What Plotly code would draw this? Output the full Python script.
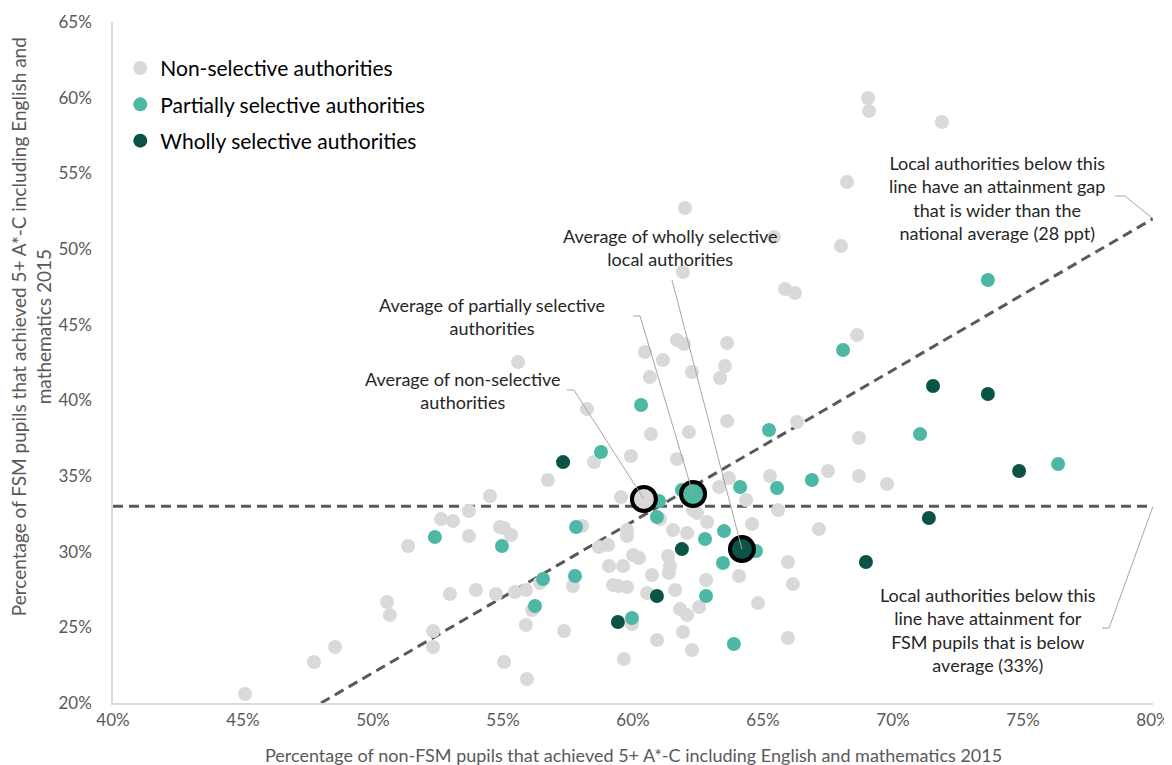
import plotly.graph_objects as go

# values, in percent
non_sel_x = [45.08, 47.73, 48.54, 50.54, 50.65, 51.35, 52.31, 52.31, 52.62, 53.08,
             52.96, 53.69, 53.69, 53.96, 54.50, 54.73, 54.88, 55.04, 55.31, 55.04,
             55.58, 55.46, 55.88, 55.88, 55.92, 56.12, 56.42, 56.73, 57.35, 57.69,
             58.04, 58.23, 58.50, 58.69, 59.04, 59.08, 59.62, 59.23, 59.42, 59.77,
             59.54, 59.77, 59.77, 59.92, 59.96, 59.65, 60.00, 60.23, 60.54, 60.46,
             60.65, 60.69, 60.73, 60.92, 61.04, 61.15, 61.35, 61.42, 61.38, 61.54,
             61.62, 61.69, 61.69, 61.96, 61.81, 62.08, 61.92, 61.92, 62.00, 62.08,
             62.15, 62.27, 62.27, 62.31, 62.46, 62.54, 62.81, 62.85, 63.31, 63.35,
             63.54, 63.62, 63.62, 63.69, 64.08, 64.35, 64.58, 64.81, 65.27, 65.42,
             65.58, 65.85, 66.23, 65.96, 66.15, 65.96, 66.31, 67.15, 67.50, 68.00,
             68.23, 68.62, 68.69, 68.69, 69.04, 69.08, 69.77, 71.88]
non_sel_y = [20.59, 22.71, 23.70, 26.67, 25.81, 30.37, 24.76, 23.70, 32.16, 32.03,
             27.20, 32.69, 31.03, 27.47, 33.68, 27.20, 31.63, 31.56, 31.10, 22.71,
             42.53, 27.33, 27.47, 25.15, 21.59, 26.14, 27.93, 34.74, 24.76, 27.73,
             31.70, 39.43, 35.92, 30.31, 30.44, 29.05, 29.05, 27.80, 27.73, 27.66,
             33.61, 31.43, 31.03, 36.32, 25.22, 22.91, 29.78, 29.58, 27.27, 43.19,
             41.54, 37.77, 28.46, 24.16, 32.16, 42.66, 29.71, 29.05, 28.59, 31.43,
             27.47, 36.12, 43.99, 43.72, 26.21, 25.81, 24.69, 48.48, 52.71, 31.23,
             37.91, 23.50, 41.87, 32.75, 32.55, 26.34, 28.13, 31.96, 34.27, 41.48,
             42.27, 43.79, 38.63, 34.87, 28.39, 33.41, 31.83, 26.61, 35.00, 50.79,
             32.75, 47.36, 47.09, 29.32, 27.86, 24.30, 38.57, 31.50, 35.33, 50.20,
             54.43, 44.32, 37.51, 35.00, 59.98, 59.12, 34.47, 58.39]

part_sel_x = [52.38, 54.96, 56.54, 56.23, 57.81, 57.77, 58.77, 60.31, 60.92, 61.00,
              59.96, 61.88, 62.77, 62.81, 63.46, 63.50, 63.88, 64.12, 64.73, 65.23,
              65.54, 66.88, 68.08, 71.04, 73.65, 76.35]
part_sel_y = [30.97, 30.37, 28.19, 26.41, 31.63, 28.39, 36.59, 39.69, 32.29, 33.35,
              25.62, 34.07, 30.84, 27.07, 29.25, 31.36, 23.90, 34.27, 30.04, 38.04,
              34.21, 34.74, 43.33, 37.77, 47.95, 35.79]

whol_sel_x = [57.31, 59.42, 60.92, 61.88, 68.96, 71.38, 71.54, 73.65, 74.85]
whol_sel_y = [35.92, 25.35, 27.07, 30.17, 29.32, 32.22, 40.95, 40.42, 35.33]

# group averages
avg_non = (60.42, 33.48)
avg_part = (62.31, 33.81)
avg_whol = (64.19, 30.17)

fsm_avg = 33      # national FSM attainment
gap_avg = 28      # national attainment gap, ppt

GREY = "#d9d9d9"
TEAL = "#4db8a6"
DARK = "#0b5345"
TXT = "#595959"
FONT = "Lato"

fig = go.Figure()

# reference lines
fig.add_trace(go.Scatter(x=[40, 80], y=[fsm_avg, fsm_avg], mode="lines",
                         line=dict(color="#595959", width=3, dash="10px,6px"),
                         showlegend=False, hoverinfo="skip"))
fig.add_trace(go.Scatter(x=[20 + gap_avg, 80], y=[20, 80 - gap_avg], mode="lines",
                         line=dict(color="#595959", width=3, dash="10px,6px"),
                         showlegend=False, hoverinfo="skip"))

fig.add_trace(go.Scatter(x=non_sel_x, y=non_sel_y, mode="markers", name="Non-selective authorities",
                         marker=dict(color=GREY, size=14), legendgroup="a"))
fig.add_trace(go.Scatter(x=part_sel_x, y=part_sel_y, mode="markers", name="Partially selective authorities",
                         marker=dict(color=TEAL, size=14), legendgroup="b"))
fig.add_trace(go.Scatter(x=whol_sel_x, y=whol_sel_y, mode="markers", name="Wholly selective authorities",
                         marker=dict(color=DARK, size=14), legendgroup="c"))

# averages, big circles with black outline
for (ax, ay), col in [(avg_non, GREY), (avg_part, TEAL), (avg_whol, DARK)]:
    fig.add_trace(go.Scatter(x=[ax], y=[ay], mode="markers", showlegend=False,
                             marker=dict(color=col, size=24, line=dict(color="black", width=4))))

# annotation texts and leader lines
notes = [
    (53.46, 40.62, "Average of non-selective<br>authorities"),
    (54.58, 45.57, "Average of partially selective<br>authorities"),
    (61.46, 50.13, "Average of wholly selective<br>local authorities"),
    (74.0, 53.37, "Local authorities below this<br>line have an attainment gap<br>that is wider than the<br>national average (28 ppt)"),
    (73.65, 24.82, "Local authorities below this<br>line have attainment for<br>FSM pupils that is below<br>average (33%)"),
]
for nx, ny, t in notes:
    fig.add_annotation(x=nx, y=ny, text=t, showarrow=False, align="center",
                       font=dict(family=FONT, size=18, color="#262626"))

leaders = [
    [(57.46, 40.68), (57.73, 40.68), avg_non],
    [(60.0, 45.57), (60.27, 45.57), avg_part],
    [(61.5, 47.95), avg_whol],
    [(78.54, 53.5), (78.92, 53.5), (80, 80 - gap_avg)],
    [(78.04, 24.95), (78.31, 24.95), (80, fsm_avg)],
]
for pts in leaders:
    path = "M " + " L ".join(f"{px},{py}" for px, py in pts)
    fig.add_shape(type="path", path=path, xref="x", yref="y",
                  line=dict(color="#a6a6a6", width=1))

# axis titles as annotations so they sit where the original has them
fig.add_annotation(x=-0.0788, y=0.552, xref="paper", yref="paper", textangle=-90,
                   xanchor="center", yanchor="middle",
                   text="Percentage of FSM pupils that achieved 5+ A*-C including English and<br>mathematics 2015",
                   showarrow=False, font=dict(family=FONT, size=19, color=TXT))
fig.add_annotation(x=0.5, y=-0.0764, xref="paper", yref="paper",
                   xanchor="center", yanchor="middle",
                   text="Percentage of non-FSM pupils that achieved 5+ A*-C including English and mathematics 2015",
                   showarrow=False, font=dict(family=FONT, size=18, color=TXT))

fig.update_xaxes(range=[40, 80], dtick=5, ticksuffix="%", showgrid=False, zeroline=False,
                 showline=True, linecolor=GREY, linewidth=1.5, ticks="", ticklabelstandoff=1,
                 automargin=False, tickfont=dict(family=FONT, size=17, color=TXT))
fig.update_yaxes(range=[20, 65], dtick=5, ticksuffix="%", showgrid=False, zeroline=False,
                 showline=True, linecolor=GREY, linewidth=1.5, ticks="", ticklabelstandoff=16,
                 automargin=False, tickfont=dict(family=FONT, size=17, color=TXT))

fig.update_layout(
    width=1164, height=757,
    margin=dict(l=105, r=19, t=14, b=62),
    plot_bgcolor="white", paper_bgcolor="white",
    font=dict(family=FONT),
    legend=dict(x=0.007, y=0.962, xanchor="left", yanchor="top", bgcolor="rgba(0,0,0,0)",
                font=dict(family=FONT, size=21, color="black"), tracegroupgap=6, itemwidth=30),
)

fig.write_html("out.html")
